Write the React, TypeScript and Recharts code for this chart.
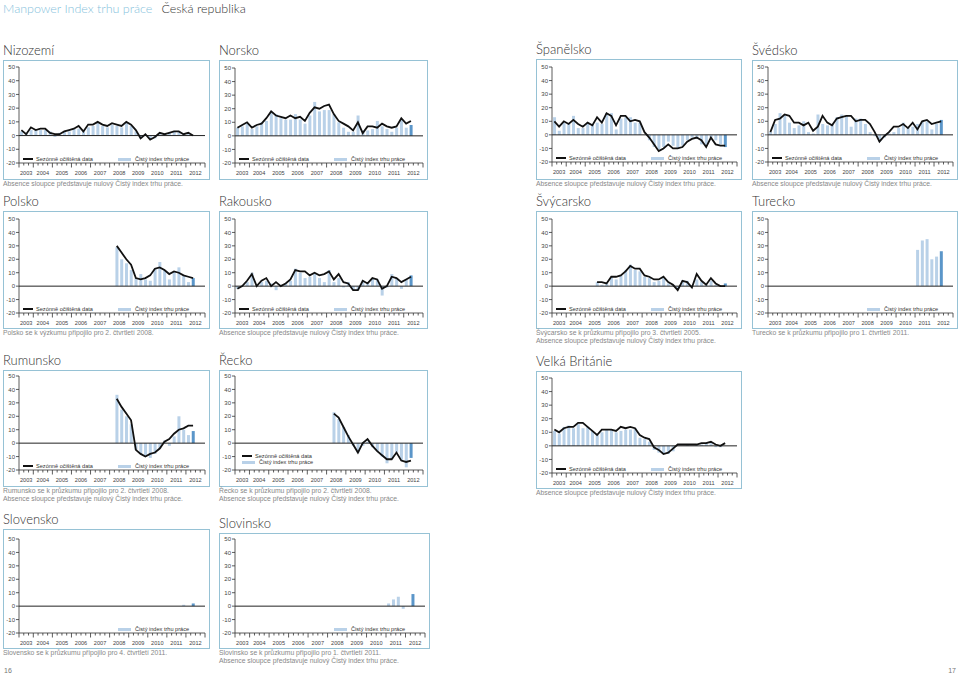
import React from "react";
import { ComposedChart, Bar, Line, XAxis, YAxis, ReferenceLine, Cell } from "recharts";

// quarter categories on the x axis (2003 Q2 .. 2012 Q4)
const quarters = [
  "2003 Q2", "2003 Q3", "2003 Q4",
  "2004 Q1", "2004 Q2", "2004 Q3", "2004 Q4",
  "2005 Q1", "2005 Q2", "2005 Q3", "2005 Q4",
  "2006 Q1", "2006 Q2", "2006 Q3", "2006 Q4",
  "2007 Q1", "2007 Q2", "2007 Q3", "2007 Q4",
  "2008 Q1", "2008 Q2", "2008 Q3", "2008 Q4",
  "2009 Q1", "2009 Q2", "2009 Q3", "2009 Q4",
  "2010 Q1", "2010 Q2", "2010 Q3", "2010 Q4",
  "2011 Q1", "2011 Q2", "2011 Q3", "2011 Q4",
  "2012 Q1", "2012 Q2", "2012 Q3", "2012 Q4",
];
const years = ["2003", "2004", "2005", "2006", "2007", "2008", "2009", "2010", "2011", "2012"];
const forecastQuarter = "2012 Q2";
const yTicks = [-20, -10, 0, 10, 20, 30, 40, 50];

// Čistý index trhu práce (bars) and sezónně očištěná data (line)
const nizozemiIndex = [3, 2, 4, 4, 4, 4, 3, -1, 2, 3, 3, 5, 5, 3, 6, 7, 9, 7, 6, 8, 7, 6, 9, 7, 3, -2, 0, -2, -2, 1, 1, 2, 3, 3, 1, 1, 0];
const nizozemiSA = [4, 1, 6, 4, 5, 5, 2, 1, 1, 3, 4, 5, 7, 3, 8, 8, 10, 8, 7, 9, 8, 7, 10, 8, 4, -2, 1, -3, -1, 2, 1, 2, 3, 3, 1, 2, 0];

const norskoIndex = [6, 7, 9, 5, 7, 10, 11, 17, 16, 13, 12, 12, 16, 12, 9, 15, 25, 18, 19, 19, 16, 10, 6, 3, 3, 15, 4, 4, 5, 11, 7, 5, 3, 6, 12, 6, 8];
const norskoSA = [6, 8, 10, 6, 8, 9, 13, 18, 15, 14, 13, 15, 13, 14, 11, 17, 21, 20, 22, 23, 16, 11, 9, 7, 4, 10, 2, 7, 7, 6, 9, 7, 6, 7, 13, 9, 11];

const spanelskoIndex = [13, 3, 9, 8, 14, 5, 5, 9, 8, 9, 8, 16, 16, 4, 12, 13, 13, 9, 9, 0, -4, -9, -11, -9, -5, -8, -10, -8, -4, -2, -3, -7, -8, -2, -4, -7, -9];
const spanelskoSA = [10, 6, 10, 8, 11, 8, 6, 9, 7, 13, 9, 16, 14, 7, 14, 14, 10, 11, 10, 2, -2, -7, -12, -10, -7, -10, -10, -9, -5, -3, -2, -4, -9, -2, -7, -8, -8];

const svedskoIndex = [2, 8, 16, 15, 9, 5, 7, 10, 2, 1, 15, 8, 7, 8, 13, 15, 14, 6, 12, 12, 8, 2, -1, -5, -2, 1, 2, 5, 9, 5, 6, 8, 10, 10, 4, 8, 11];
const svedskoSA = [2, 11, 12, 15, 14, 9, 9, 7, 9, 3, 6, 14, 9, 7, 12, 13, 14, 14, 10, 11, 11, 8, 2, -5, -1, 2, 6, 6, 8, 5, 9, 4, 10, 11, 8, 9, 10];

const polskoIndex = [29, 20, 17, 12, 6, 9, 5, 4, 13, 18, 12, 5, 11, 14, 8, 3, 6];
const polskoSA = [30, 25, 20, 16, 6, 5, 6, 8, 13, 14, 12, 9, 11, 10, 8, 7, 6];

const rakouskoIndex = [-2, 0, 3, 10, 1, 3, 4, 2, -3, 1, 2, 4, 13, 10, 6, 7, 10, 6, 3, 12, 3, 6, -1, 3, -3, -3, 4, 3, 6, 5, -7, -1, 9, 6, -2, 5, 8];
const rakouskoSA = [-2, 0, 4, 9, 0, 4, 6, 0, 3, 0, 2, 5, 12, 11, 11, 8, 10, 8, 9, 11, 5, 9, 3, 2, -3, -3, 4, 2, 6, 5, -2, 0, 7, 6, 3, 5, 7];

const svycarskoIndex = [3, 1, 2, 7, 5, 8, 12, 16, 12, 11, 7, 6, 3, 4, 6, 2, 1, -2, 4, 4, 0, 5, 3, 1, 4, 1, 0, 2];
const svycarskoSA = [3, 3, 2, 7, 7, 8, 11, 15, 13, 13, 8, 7, 5, 5, 7, 3, 1, -3, 4, 3, -1, 9, 4, 1, 6, 2, 0, 0];

const tureckoIndex = [27, 34, 35, 20, 22, 26];

const rumunskoIndex = [36, 25, 20, 14, -5, -8, -10, -11, -8, -4, 2, -2, 5, 20, 10, 6, 9];
const rumunskoSA = [33, 27, 22, 17, -5, -8, -10, -8, -7, -4, 1, 3, 7, 10, 11, 13, 13];

const reckoIndex = [23, 18, 12, 6, -2, -7, -2, 1, -3, -6, -10, -15, -12, -7, -13, -18, -11];
const reckoSA = [22, 19, 12, 5, -1, -7, 0, 3, -2, -6, -9, -12, -12, -7, -13, -14, -13];

const britanieIndex = [11, 9, 14, 15, 13, 16, 13, 14, 11, 8, 10, 12, 12, 10, 11, 12, 12, 13, 6, 5, 3, -3, -5, -6, -6, -4, 0, 0, 1, 0, 1, 1, 2, 2, -1, -1, 0];
const britanieSA = [12, 10, 13, 14, 14, 17, 17, 14, 11, 8, 12, 12, 12, 11, 14, 13, 14, 13, 8, 6, 5, -1, -3, -6, -5, -2, 1, 1, 1, 1, 1, 2, 2, 3, 1, 0, 2];

const slovenskoIndex = [1, 0, 2];
const slovinskoIndex = [2, 5, 7, -2, 0, 9];

const absenceNote = "Absence sloupce představuje nulový Čistý index trhu práce.";
const legendLine = "Sezónně očištěná data";
const legendBars = "Čistý index trhu práce";

const LIGHT = "#b9d1e8";
const DARK = "#5b96c9";
const BORDER = "#96c2d5";
const SMALL = "'Liberation Sans', Arial, sans-serif";
const TITLE = "Lato, 'Open Sans', 'Liberation Sans', sans-serif";

type Row = { q: string; index: number | null; sa: number | null };

function buildRows(start: string, index: number[], sa?: number[]): Row[] {
  const s = quarters.indexOf(start);
  return quarters.map((q, i) => {
    const k = i - s;
    return {
      q,
      index: k >= 0 && k < index.length ? index[k] : null,
      sa: sa && k >= 0 && k < sa.length ? sa[k] : null,
    };
  });
}

function QuarterTick(props: any) {
  const { x, y, payload, bw } = props;
  const [yr, q] = String(payload.value).split(" ");
  const isFirst = payload.index === 0;
  const isLast = payload.index === quarters.length - 1;
  const left = x - bw / 2;
  const major = q === "Q1" || isFirst;
  let yearX: number | null = null;
  if (yr === years[0] && q === "Q3") yearX = x;
  else if (yr !== years[0] && q === "Q2") yearX = x + bw / 2;
  return (
    <g>
      <line x1={left} x2={left} y1={y} y2={y + (major ? 4.5 : 2.5)} stroke="#333" strokeWidth={0.8} />
      {isLast && <line x1={x + bw / 2} x2={x + bw / 2} y1={y} y2={y + 4.5} stroke="#333" strokeWidth={0.8} />}
      {yearX !== null && (
        <text x={yearX} y={y + 12} textAnchor="middle" fontSize={5.6} fill="#444" fontFamily={SMALL}>
          {yr}
        </text>
      )}
    </g>
  );
}

type Panel = {
  title: string;
  x: number;
  y: number;
  w: number;
  h: number;
  plotTop: number;
  plotBottom: number;
  start: string;
  index: number[];
  sa?: number[];
  legend: "both" | "stacked" | "bars";
  notes: string[];
};

const panels: Panel[] = [
  { title: "Nizozemí", x: 3, y: 60, w: 207, h: 120, plotTop: 7, plotBottom: 103, start: "2003 Q2", index: nizozemiIndex, sa: nizozemiSA, legend: "both", notes: [absenceNote] },
  { title: "Norsko", x: 219, y: 60, w: 209, h: 120, plotTop: 8, plotBottom: 103, start: "2003 Q2", index: norskoIndex, sa: norskoSA, legend: "both", notes: [] },
  { title: "Španělsko", x: 536, y: 59, w: 206, h: 121, plotTop: 8, plotBottom: 103, start: "2003 Q2", index: spanelskoIndex, sa: spanelskoSA, legend: "both", notes: [absenceNote] },
  { title: "Švédsko", x: 752, y: 60, w: 206, h: 120, plotTop: 7, plotBottom: 102, start: "2003 Q2", index: svedskoIndex, sa: svedskoSA, legend: "both", notes: [absenceNote] },
  { title: "Polsko", x: 3, y: 211, w: 207, h: 118, plotTop: 8, plotBottom: 102, start: "2008 Q2", index: polskoIndex, sa: polskoSA, legend: "both", notes: ["Polsko se k výzkumu připojilo pro 2. čtvrtletí 2008."] },
  { title: "Rakousko", x: 219, y: 211, w: 209, h: 118, plotTop: 8, plotBottom: 102, start: "2003 Q2", index: rakouskoIndex, sa: rakouskoSA, legend: "both", notes: [absenceNote] },
  { title: "Švýcarsko", x: 536, y: 211, w: 206, h: 118, plotTop: 8, plotBottom: 102, start: "2005 Q3", index: svycarskoIndex, sa: svycarskoSA, legend: "both", notes: ["Švýcarsko se k průzkumu připojilo pro 3. čtvrtletí 2005.", absenceNote] },
  { title: "Turecko", x: 752, y: 211, w: 206, h: 118, plotTop: 8, plotBottom: 102, start: "2011 Q1", index: tureckoIndex, legend: "bars", notes: ["Turecko se k průzkumu připojilo pro 1. čtvrtletí 2011."] },
  { title: "Rumunsko", x: 3, y: 370, w: 207, h: 117, plotTop: 6, plotBottom: 100, start: "2008 Q2", index: rumunskoIndex, sa: rumunskoSA, legend: "both", notes: ["Rumunsko se k průzkumu připojilo pro 2. čtvrtletí 2008.", absenceNote] },
  { title: "Řecko", x: 219, y: 370, w: 209, h: 117, plotTop: 6, plotBottom: 100, start: "2008 Q2", index: reckoIndex, sa: reckoSA, legend: "stacked", notes: ["Řecko se k průzkumu připojilo pro 2. čtvrtletí 2008.", absenceNote] },
  { title: "Velká Británie", x: 536, y: 371, w: 206, h: 118, plotTop: 7, plotBottom: 102, start: "2003 Q2", index: britanieIndex, sa: britanieSA, legend: "both", notes: [absenceNote] },
  { title: "Slovensko", x: 3, y: 529, w: 207, h: 120, plotTop: 10, plotBottom: 104, start: "2011 Q4", index: slovenskoIndex, legend: "bars", notes: ["Slovensko se k průzkumu připojilo pro 4. čtvrtletí 2011."] },
  { title: "Slovinsko", x: 219, y: 533, w: 211, h: 116, plotTop: 6, plotBottom: 100, start: "2011 Q1", index: slovinskoIndex, legend: "bars", notes: ["Slovinsko se k průzkumu připojilo pro 1. čtvrtletí 2011.", absenceNote] },
];

const legendText: React.CSSProperties = {
  position: "absolute",
  fontSize: 5.6,
  lineHeight: "6px",
  color: "#333",
  fontFamily: SMALL,
  whiteSpace: "nowrap",
};

function LegendItem({ x, y, kind, label }: { x: number; y: number; kind: "line" | "bars"; label: string }) {
  return (
    <>
      <div
        style={{
          position: "absolute",
          left: x,
          top: y - (kind === "line" ? 1 : 1.5),
          width: kind === "line" ? 10 : 13,
          height: kind === "line" ? 2 : 3,
          background: kind === "line" ? "#111" : LIGHT,
        }}
      />
      <div style={{ ...legendText, left: x + (kind === "line" ? 13 : 17), top: y - 3 }}>{label}</div>
    </>
  );
}

function CountryChart({ p }: { p: Panel }) {
  const cw = p.w - 2;
  const ch = p.h - 2;
  const yAxisW = 15;
  const right = 4;
  const bw = (cw - yAxisW - right) / quarters.length;
  const rows = buildRows(p.start, p.index, p.sa);
  const ly = p.plotBottom - 5;
  return (
    <>
      <div
        style={{
          position: "absolute",
          left: p.x,
          top: p.y - 18,
          fontSize: 13,
          lineHeight: "16px",
          fontFamily: TITLE,
          fontWeight: 300,
          color: "#333",
          whiteSpace: "nowrap",
        }}
      >
        {p.title}
      </div>
      <div
        style={{
          position: "absolute",
          left: p.x,
          top: p.y,
          width: cw,
          height: ch,
          border: `1px solid ${BORDER}`,
          background: "#fff",
        }}
      >
        <ComposedChart
          width={cw}
          height={ch}
          data={rows}
          margin={{ top: p.plotTop - 1, right, left: 0, bottom: 0 }}
          barCategoryGap="22%"
        >
          <XAxis
            dataKey="q"
            interval={0}
            tickLine={false}
            tickSize={0}
            tickMargin={0}
            height={ch - (p.plotBottom - 1)}
            axisLine={{ stroke: "#333", strokeWidth: 0.8 }}
            tick={(tp: any) => <QuarterTick {...tp} bw={bw} />}
          />
          <YAxis
            width={yAxisW}
            domain={[-20, 50]}
            ticks={yTicks}
            interval={0}
            tickSize={3}
            tickMargin={1}
            axisLine={{ stroke: "#333", strokeWidth: 0.8 }}
            tickLine={{ stroke: "#333", strokeWidth: 0.8 }}
            tick={{ fontSize: 6, fill: "#444", fontFamily: SMALL }}
          />
          <Bar dataKey="index" isAnimationActive={false}>
            {rows.map((r) => (
              <Cell key={r.q} fill={r.q === forecastQuarter ? DARK : LIGHT} />
            ))}
          </Bar>
          <ReferenceLine y={0} stroke="#222" strokeWidth={1} />
          {p.sa && (
            <Line
              dataKey="sa"
              type="linear"
              stroke="#111"
              strokeWidth={1.8}
              dot={false}
              isAnimationActive={false}
            />
          )}
        </ComposedChart>
        {p.legend === "both" && (
          <>
            <LegendItem x={19} y={ly} kind="line" label={legendLine} />
            <LegendItem x={114} y={ly} kind="bars" label={legendBars} />
          </>
        )}
        {p.legend === "stacked" && (
          <>
            <LegendItem x={22} y={ly - 10} kind="line" label={legendLine} />
            <LegendItem x={22} y={ly - 4} kind="bars" label={legendBars} />
          </>
        )}
        {p.legend === "bars" && <LegendItem x={114} y={ly} kind="bars" label={legendBars} />}
      </div>
      {p.notes.map((n, i) => (
        <div
          key={i}
          style={{
            position: "absolute",
            left: p.x,
            top: p.y + p.h + i * 7.5,
            fontSize: 6.8,
            lineHeight: "8px",
            color: "#888",
            fontFamily: SMALL,
            whiteSpace: "nowrap",
          }}
        >
          {n}
        </div>
      ))}
    </>
  );
}

export default function App() {
  return (
    <div style={{ position: "relative", width: 960, height: 677, background: "#fff", overflow: "hidden" }}>
      <style>{"body{margin:0}"}</style>
      <div style={{ position: "absolute", left: 3, top: 1, fontSize: 12.5, lineHeight: "16px", fontFamily: TITLE, fontWeight: 300, whiteSpace: "nowrap" }}>
        <span style={{ color: "#86bfdc" }}>Manpower Index trhu práce</span>
        <span style={{ color: "#333", marginLeft: 9 }}>Česká republika</span>
      </div>
      {panels.map((p) => (
        <CountryChart key={p.title} p={p} />
      ))}
      <div style={{ position: "absolute", left: 4, top: 667, fontSize: 7, color: "#777", fontFamily: SMALL }}>16</div>
      <div style={{ position: "absolute", right: 4, top: 667, fontSize: 7, color: "#777", fontFamily: SMALL }}>17</div>
    </div>
  );
}
